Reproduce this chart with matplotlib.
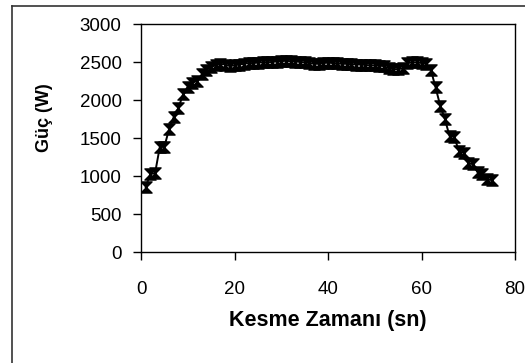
import matplotlib
matplotlib.use('Agg')
import matplotlib.pyplot as plt
from matplotlib.path import Path
from matplotlib.lines import Line2D

plt.rcParams['font.family'] = ['Liberation Sans', 'DejaVu Sans']

# Kesme zamani (sn) ve guc (W) degerleri
zaman = list(range(1, 76))
guc = [860, 1030, 1040, 1380, 1390, 1620, 1780, 1900, 2080, 2180,
       2230, 2260, 2340, 2400, 2440, 2460, 2480, 2470, 2450, 2460,
       2470, 2480, 2490, 2490, 2495, 2500, 2500, 2505, 2510, 2515,
       2520, 2515, 2510, 2505, 2500, 2490, 2480, 2480, 2490, 2495,
       2490, 2485, 2480, 2480, 2475, 2470, 2470, 2465, 2460, 2460,
       2455, 2450, 2420, 2410, 2410, 2420, 2490, 2500, 2500, 2490,
       2480, 2400, 2170, 1930, 1750, 1530, 1520, 1330, 1310, 1170,
       1160, 1050, 1030, 960, 950]

# marqueur en forme de sablier
sablier = Path([(-1, 1), (1, 1), (-1, -1), (1, -1), (-1, 1)],
               [Path.MOVETO, Path.LINETO, Path.LINETO, Path.LINETO, Path.CLOSEPOLY])

fig = plt.figure(figsize=(5.25, 3.63), dpi=100)
ax = fig.add_axes([0.2686, 0.305, 0.7124, 0.628])

ax.plot(zaman, guc, color='black', linewidth=1.4, marker=sablier,
        markersize=8, markerfacecolor='black', markeredgecolor='black')

ax.set_xlim(0, 80)
ax.set_ylim(0, 3000)
ax.set_xticks([0, 20, 40, 60, 80])
ax.set_yticks(range(0, 3001, 500))
ax.tick_params(direction='out', length=6, width=1, labelsize=13.5, color='black')
ax.tick_params(axis='y', pad=8)
ax.tick_params(axis='x', pad=15)
for s in ax.spines.values():
    s.set_linewidth(1)
    s.set_color('black')

ax.set_xlabel('Kesme Zamanı (sn)', fontsize=15.5, fontweight='bold')
ax.set_ylabel('Güç (W)', fontsize=13, fontweight='bold')
ax.xaxis.set_label_coords(0.5, -0.255)
ax.yaxis.set_label_coords(-0.235, 0.59)

# cadre exterieur
fig.add_artist(Line2D([12 / 525, 12 / 525], [0, 1 - 6 / 363], transform=fig.transFigure,
                      color='#333333', linewidth=1.2))
fig.add_artist(Line2D([12 / 525, 1], [1 - 6 / 363, 1 - 6 / 363], transform=fig.transFigure,
                      color='#333333', linewidth=1.2))

fig.savefig('out.png', dpi=100)
